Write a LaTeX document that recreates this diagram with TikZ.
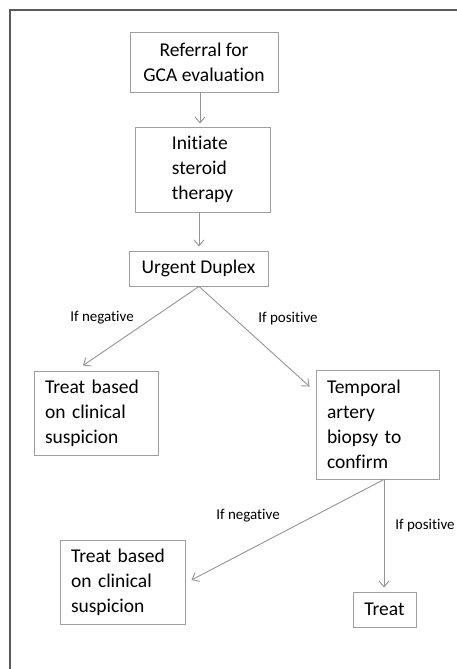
\documentclass[tikz,border=0pt]{standalone}
\usepackage{fontspec}
\setmainfont{Carlito}[Ligatures=NoCommon,Contextuals=NoAlternate]
\usetikzlibrary{arrows.meta,calc}

\tikzset{
  stepbox/.style={draw=gray!75,line width=0.9pt,inner sep=0pt,
    font=\fontsize{19.5}{25}\selectfont},
  flow/.style={draw=gray!85,line width=0.9pt,
    -{Straight Barb[length=6pt,width=10pt]}},
  cond/.style={font=\fontsize{15}{17}\selectfont,inner sep=0pt},
  frame/.style={draw=black!65,line width=2pt}
}

\begin{document}
\begin{tikzpicture}[x=1pt,y=-1pt]
  \useasboundingbox (0,0) rectangle (457,669);
  \draw[frame] (10,669) -- (10,10) -- (457,10);

  % boxes
  \node[stepbox,minimum width=148pt,minimum height=60pt,align=center]
    (ref) at (204,62) {Referral for\\GCA evaluation};
  \node[stepbox,minimum width=135pt,minimum height=85pt,align=left]
    (ster) at (202.5,169.5) {Initiate\\steroid\\therapy};
  \node[stepbox,minimum width=139pt,minimum height=35pt]
    (dup) at (198.5,268.5) {Urgent Duplex};
  \node[stepbox,text width=102pt,inner xsep=11pt,minimum height=84pt,align=left]
    (tcsa) at (96,413) {Treat based\\on clinical\\suspicion};
  \node[stepbox,text width=101pt,inner xsep=11pt,minimum height=109pt,align=left]
    (tab) at (377.5,424.5) {Temporal\\artery\\biopsy to\\confirm};
  \node[stepbox,text width=103pt,inner xsep=11pt,minimum height=84pt,align=left]
    (tcsb) at (122.5,582) {Treat based\\on clinical\\suspicion};
  \node[stepbox,minimum width=63pt,minimum height=35pt]
    (treat) at (384.5,609.5) {Treat};

  % connectors
  \coordinate (dupout) at ($(dup.south)+(0.5,0)$);
  \coordinate (tabout) at ($(tab.south)+(6.5,0)$);
  \draw[flow,shorten >=3pt] (ref.south -| 200,0) -- (ster.north -| 200,0);
  \draw[flow,shorten >=4pt] (ster.south -| 199,0) -- (dup.north -| 199,0);
  \draw[flow] (dupout) -- ($(tcsa.north)+(-13,-5)$);
  \draw[flow] (dupout) -- ($(tab.north west)+(-6,17)$);
  \draw[flow] (tabout) -- ($(tcsb.east)+(6,-2)$);
  \draw[flow,shorten >=4pt] (tabout) -- (tabout |- treat.north);

  % branch labels
  \node[cond] (nega) at (102,318) {If negative};
  \node[cond] (posa) at (288,319) {If positive};
  \node[cond] (negb) at (248,516) {If negative};
  \node[cond] (posb) at (425,526) {If positive};
\end{tikzpicture}
\end{document}
